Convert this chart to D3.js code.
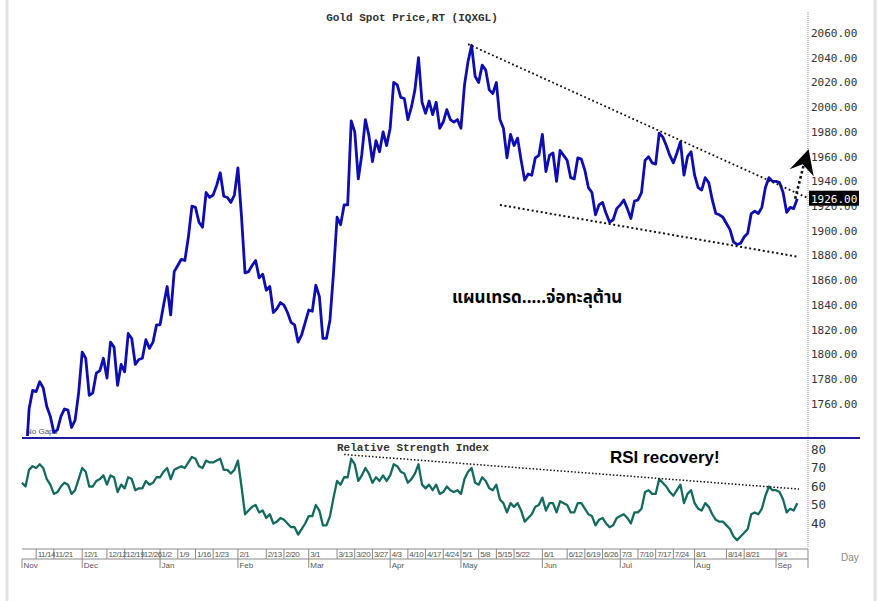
<!DOCTYPE html>
<html>
<head>
<meta charset="utf-8">
<script src="https://cdn.jsdelivr.net/npm/d3@7"></script>
<style>
  body { margin: 0; background: #fff; }
</style>
</head>
<body>
<div id="chart"></div>
<script>
// daily closes, one per weekday from 2022-11-08
const prices = [
  1712, 1708, 1756, 1771, 1770, 1778, 1773, 1758, 1750, 1737,
  1739, 1750, 1756, 1755, 1741, 1747, 1769, 1802, 1797, 1767,
  1769, 1785, 1787, 1797, 1781, 1810, 1806, 1775, 1792, 1786,
  1817, 1813, 1792, 1796, 1797, 1812, 1805, 1810, 1824, 1824,
  1840, 1855, 1832, 1867, 1872, 1877, 1876, 1895, 1920, 1919,
  1907, 1903, 1931, 1927, 1929, 1937, 1947, 1928, 1927, 1923,
  1929, 1951, 1912, 1866, 1867, 1872, 1876, 1862, 1865, 1852,
  1855, 1834, 1837, 1842, 1840, 1834, 1826, 1824, 1810, 1816,
  1826, 1836, 1835, 1856, 1847, 1813, 1813, 1828, 1866, 1911,
  1905, 1921, 1921, 1989, 1980, 1942, 1962, 1990, 1977, 1956,
  1973, 1964, 1980, 1969, 1983, 2020, 2018, 2008, 2007, 1990,
  2000, 2014, 2040, 2004, 1995, 2005, 1994, 2004, 1983, 1988,
  1998, 1990, 1988, 1990, 1983, 2018, 2037, 2050, 2025, 2020,
  2034, 2030, 2014, 2011, 2020, 1990, 1983, 1959, 1978, 1969,
  1975, 1957, 1941, 1946, 1945, 1959, 1961, 1978, 1948, 1961,
  1963, 1940, 1965, 1961, 1957, 1943, 1942, 1959, 1958, 1949,
  1935, 1931, 1913, 1921, 1923, 1914, 1907, 1909, 1918, 1921,
  1925, 1918, 1910, 1924, 1925, 1931, 1957, 1960, 1955, 1954,
  1979, 1976, 1969, 1961, 1955, 1963, 1972, 1945, 1960, 1964,
  1945, 1935, 1933, 1943, 1939, 1925, 1914, 1913, 1911, 1906,
  1901, 1891, 1889, 1890, 1895, 1898, 1914, 1916, 1914, 1919,
  1935, 1943, 1940, 1940, 1939, 1931, 1915, 1919, 1918, 1926
];

const rsi = [
  62, 60, 69, 71, 70, 72, 70, 64, 61, 56,
  57, 60, 62, 61, 56, 58, 64, 70, 68, 60,
  60, 63, 64, 66, 61, 66, 65, 57, 61, 59,
  65, 64, 58, 59, 59, 63, 61, 62, 65, 65,
  68, 70, 64, 69, 70, 71, 70, 73, 76, 75,
  71, 70, 74, 73, 73, 74, 75, 69, 69, 67,
  69, 74, 60, 45, 47, 49, 50, 46, 47, 43,
  45, 40, 41, 43, 42, 40, 38, 38, 34, 37,
  40, 44, 44, 50, 47, 39, 39, 44, 54, 63,
  61, 65, 65, 75, 72, 63, 66, 70, 67, 62,
  65, 63, 66, 63, 66, 72, 71, 68, 67, 62,
  64, 67, 72, 61, 59, 61, 58, 61, 56, 57,
  60, 58, 57, 58, 56, 64, 68, 70, 62, 61,
  65, 63, 59, 58, 61, 53, 51, 46, 51, 49,
  51, 47, 41, 43, 45, 49, 50, 54, 47, 51,
  51, 46, 52, 51, 50, 46, 46, 51, 51, 48,
  45, 44, 39, 42, 43, 40, 38, 39, 43, 44,
  45, 43, 40, 46, 46, 48, 57, 58, 56, 56,
  64, 62, 60, 57, 55, 58, 61, 51, 56, 58,
  51, 48, 47, 51, 49, 45, 42, 41, 41, 39,
  37, 33, 31, 33, 35, 37, 45, 46, 45, 48,
  55, 60, 58, 58, 57, 53, 46, 48, 47, 51
];

const priceTicks = [1760, 1780, 1800, 1820, 1840, 1860, 1880, 1900, 1920, 1940, 1960, 1980, 2000, 2020, 2040, 2060];
const rsiTicks = [40, 50, 60, 70, 80];
const dayLabels = ['11/14', '11/21', '12/1', '12/12', '12/19', '12/26', '1/2', '1/9', '1/16', '1/23',
  '2/1', '2/13', '2/20', '3/1', '3/13', '3/20', '3/27', '4/3', '4/10', '4/17', '4/24',
  '5/1', '5/8', '5/15', '5/22', '6/1', '6/12', '6/19', '6/26', '7/3', '7/10', '7/17', '7/24',
  '8/1', '8/14', '8/21', '9/1'];
const monthNames = ['Nov', 'Dec', 'Jan', 'Feb', 'Mar', 'Apr', 'May', 'Jun', 'Jul', 'Aug', 'Sep'];
const monthStarts = ['11/8', '12/1', '1/2', '2/1', '3/1', '4/3', '5/1', '6/1', '7/3', '8/1', '9/1'];

// trend lines as [day index, value]
const upperTrend = [[126, 2051], [222, 1926.5]];
const lowerTrend = [[135, 1921], [219.3, 1879]];
const rsiTrend = [[91, 77.3], [219.5, 58.6]];
const breakoutArrow = [[218.4, 1926], [220.8, 1953]];
const lastPrice = prices[prices.length - 1];

const width = 878, height = 601;
const left = 22, axisX = 808;
const pTop = 12, pBottom = 437;
const rTop = 440, rBottom = 548;

const svg = d3.select('#chart').append('svg')
  .attr('width', width).attr('height', height)
  .style('font-family', 'Liberation Sans, Arial, sans-serif');

const weekdays = d3.timeDay.range(new Date(2022, 10, 8), new Date(2023, 9, 1))
  .filter(d => d.getDay() > 0 && d.getDay() < 6)
  .slice(0, prices.length);
const parseDay = s => {
  const [m, d] = s.split('/').map(Number);
  return new Date(m >= 11 ? 2022 : 2023, m - 1, d);
};
const dayIndex = s => {
  const t = +parseDay(s);
  return weekdays.findIndex(d => +d === t);
};

const x = d3.scaleLinear().domain([0, prices.length - 1]).range([left, left + (prices.length - 1) * 3.54]);
const y = d3.scaleLinear().domain([1760, 2060]).range([404, 33]);
const yr = d3.scaleLinear().domain([40, 80]).range([523.5, 449.5]);

// frame
svg.append('line').attr('x1', 7).attr('x2', 7).attr('y1', 0).attr('y2', height)
  .attr('stroke', '#e2e2e2').attr('stroke-width', 3);
svg.append('line').attr('x1', 875).attr('x2', 875).attr('y1', 0).attr('y2', height)
  .attr('stroke', '#e2e2e2').attr('stroke-width', 3);

svg.append('defs').append('clipPath').attr('id', 'pclip')
  .append('rect').attr('x', left).attr('y', pTop).attr('width', axisX - left).attr('height', pBottom - pTop - 1);

// right axes
svg.append('line').attr('x1', axisX).attr('x2', axisX).attr('y1', pTop).attr('y2', rBottom)
  .attr('stroke', '#999').attr('stroke-width', 1).attr('stroke-dasharray', '1,1');

svg.append('g').selectAll('text').data(priceTicks).join('text')
  .attr('x', axisX + 3).attr('y', d => y(d)).attr('dy', '0.35em')
  .attr('font-family', 'DejaVu Sans Mono, monospace').attr('font-size', '11px')
  .attr('fill', '#333')
  .text(d => d3.format('.2f')(d));

svg.append('g').selectAll('text').data(rsiTicks).join('text')
  .attr('x', axisX + 3).attr('y', d => yr(d)).attr('dy', '0.35em')
  .attr('font-family', 'DejaVu Sans Mono, monospace').attr('font-size', '12.5px')
  .attr('fill', '#333')
  .text(d => d);

// last price box
svg.append('rect').attr('x', axisX + 1).attr('y', y(lastPrice) - 8).attr('width', 50).attr('height', 15)
  .attr('fill', '#000');
svg.append('text').attr('x', axisX + 3).attr('y', y(lastPrice)).attr('dy', '0.35em')
  .attr('font-family', 'DejaVu Sans Mono, monospace').attr('font-size', '11px')
  .attr('fill', '#fff')
  .text(d3.format('.2f')(lastPrice));

// panel separator
svg.append('line').attr('x1', left).attr('x2', 860).attr('y1', pBottom + 1).attr('y2', pBottom + 1)
  .attr('stroke', '#1c1c9c').attr('stroke-width', 2);

// titles
svg.append('text').attr('x', 412).attr('y', 21).attr('text-anchor', 'middle')
  .attr('font-family', 'Liberation Mono, Courier New, monospace').attr('font-weight', 'bold')
  .attr('font-size', '11px').attr('fill', '#333')
  .text('Gold Spot Price,RT (IQXGL)');
svg.append('text').attr('x', 337).attr('y', 451)
  .attr('font-family', 'Liberation Mono, Courier New, monospace').attr('font-weight', 'bold')
  .attr('font-size', '11px').attr('fill', '#333')
  .text('Relative Strength Index');
svg.append('text').attr('x', 26).attr('y', 434)
  .attr('font-size', '8px').attr('fill', '#555')
  .text('No Gaps');

// price line
const priceLine = d3.line().x((d, i) => x(i)).y(d => y(d));
svg.append('path').datum(prices)
  .attr('clip-path', 'url(#pclip)')
  .attr('d', priceLine)
  .attr('fill', 'none').attr('stroke', '#0d0db0').attr('stroke-width', 2.8)
  .attr('stroke-linejoin', 'round');

// rsi line
const rsiLine = d3.line().x((d, i) => x(i)).y(d => yr(d));
svg.append('path').datum(rsi)
  .attr('d', rsiLine)
  .attr('fill', 'none').attr('stroke', '#146a5e').attr('stroke-width', 2.3)
  .attr('stroke-linejoin', 'round');

// trend lines
const trend = d3.line().x(d => x(d[0])).y(d => y(d[1]));
svg.append('path').attr('d', trend(upperTrend))
  .attr('fill', 'none').attr('stroke', '#111').attr('stroke-width', 1.8).attr('stroke-dasharray', '1.8,2.6');
svg.append('path').attr('d', trend(lowerTrend))
  .attr('fill', 'none').attr('stroke', '#111').attr('stroke-width', 2).attr('stroke-dasharray', '2,2.6');
svg.append('path').attr('d', d3.line().x(d => x(d[0])).y(d => yr(d[1]))(rsiTrend))
  .attr('fill', 'none').attr('stroke', '#111').attr('stroke-width', 1.5).attr('stroke-dasharray', '1.5,2');

// breakout arrow
const a0 = [x(breakoutArrow[0][0]), y(breakoutArrow[0][1])];
const a1 = [x(breakoutArrow[1][0]), y(breakoutArrow[1][1])];
svg.append('line').attr('x1', a0[0]).attr('y1', a0[1]).attr('x2', a1[0]).attr('y2', a1[1])
  .attr('stroke', '#111').attr('stroke-width', 2.6).attr('stroke-dasharray', '2.6,2.6');
svg.append('polygon')
  .attr('points', [[a1[0] + 5, a1[1] - 16], [a1[0] - 14, a1[1] + 4], [a1[0] - 1, a1[1] - 1], [a1[0] + 10, a1[1] + 11]].join(' '))
  .attr('fill', '#000');

// annotations
svg.append('text').attr('x', 452).attr('y', 303)
  .attr('font-family', 'Noto Sans Thai, Noto Sans, sans-serif').attr('font-weight', 'bold')
  .attr('font-size', '17px').attr('fill', '#000')
  .text('แผนเทรด.....จ่อทะลุต้าน');
svg.append('text').attr('x', 610).attr('y', 463)
  .attr('font-weight', 'bold').attr('font-size', '17px').attr('fill', '#000')
  .text('RSI recovery!');

// date axis
const axisTop = 549, axisMid = 559, axisBottom = 568;
const dateAxis = svg.append('g').attr('fill', 'none').attr('stroke', '#8a8a8a').attr('stroke-width', 1);
dateAxis.append('line').attr('x1', left).attr('x2', axisX).attr('y1', axisTop).attr('y2', axisTop);
dateAxis.append('line').attr('x1', left).attr('x2', axisX).attr('y1', axisMid).attr('y2', axisMid);
dateAxis.append('line').attr('x1', axisX).attr('x2', axisX).attr('y1', axisTop).attr('y2', axisBottom);
dateAxis.selectAll('.tick').data(dayLabels).join('line')
  .attr('x1', d => x(dayIndex(d))).attr('x2', d => x(dayIndex(d)))
  .attr('y1', axisTop).attr('y2', axisMid);
dateAxis.selectAll('.month').data(monthStarts).join('line')
  .attr('x1', d => x(dayIndex(d))).attr('x2', d => x(dayIndex(d)))
  .attr('y1', axisMid).attr('y2', axisBottom);

svg.append('g').selectAll('text').data(dayLabels).join('text')
  .attr('x', d => x(dayIndex(d)) + 1.5).attr('y', axisMid - 2)
  .attr('font-size', '8px').attr('letter-spacing', '-0.4px').attr('fill', '#555')
  .text(d => d);
svg.append('g').selectAll('text').data(monthNames).join('text')
  .attr('x', (d, i) => x(dayIndex(monthStarts[i])) + 1.5).attr('y', axisBottom - 0.5)
  .attr('font-size', '8px').attr('fill', '#555')
  .text(d => d);

svg.append('text').attr('x', 841).attr('y', 561)
  .attr('font-size', '10px').attr('fill', '#888')
  .text('Day');
</script>
</body>
</html>
